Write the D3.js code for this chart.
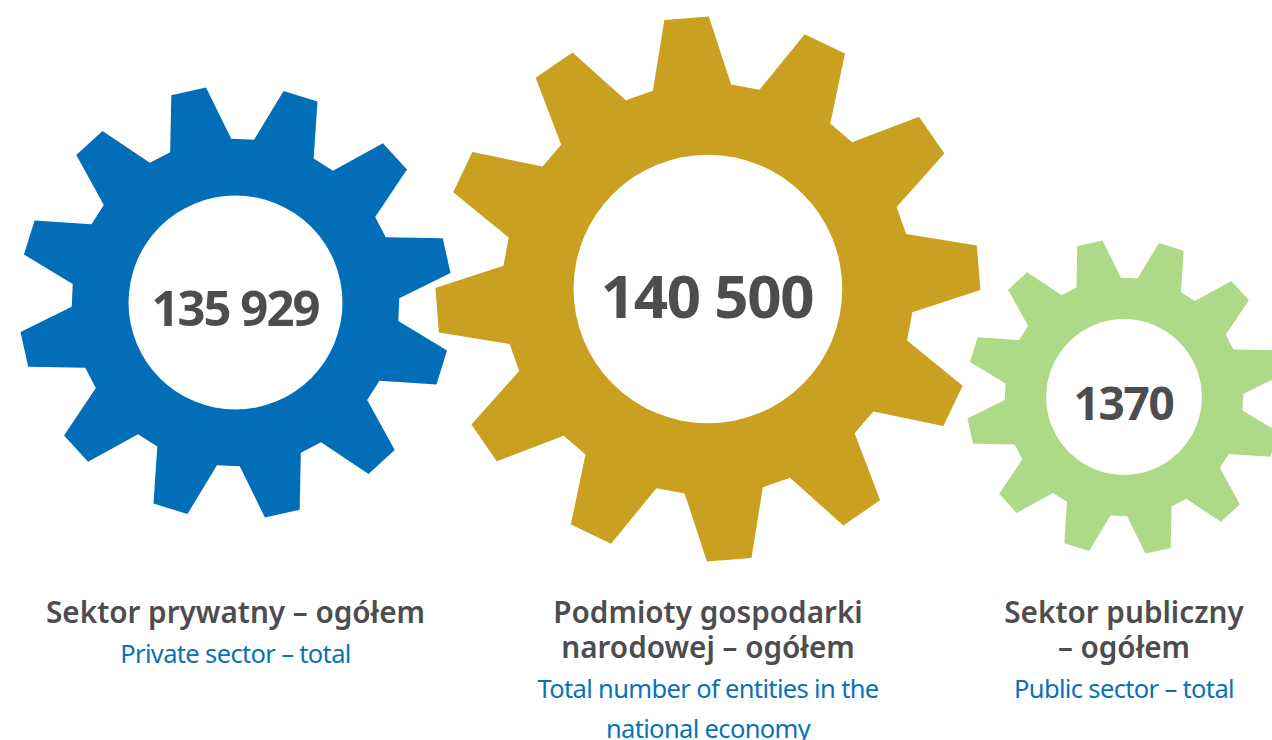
<!DOCTYPE html>
<html>
<head>
<meta charset="utf-8">
<script src="https://cdnjs.cloudflare.com/ajax/libs/d3/7.8.5/d3.min.js"></script>
<style>
  html, body { margin: 0; padding: 0; background: #fff; overflow: hidden; }
  text { font-family: "Noto Sans", sans-serif; text-anchor: middle; }
</style>
</head>
<body>
<svg id="chart" width="1272" height="740"></svg>
<script>
// the values shown inside the gears
const values = [135929, 140500, 1370];
const titles_pl = [
  ["Sektor prywatny – ogółem"],
  ["Podmioty gospodarki", "narodowej – ogółem"],
  ["Sektor publiczny", "– ogółem"]
];
const titles_en = [
  ["Private sector – total"],
  ["Total number of entities in the", "national economy"],
  ["Public sector – total"]
];

const colors = ["#036eb8", "#c9a01f", "#aed986"];
const text_color = "#4d4d4f";
const blue_text = "#0a71b9";

// where each gear goes and how big it is drawn
const gears = [
  {cx: 235.5, cy: 302.5, outer: 217, rotate: 17.5, value_size: 49, value_x: 235, value_y: 326, value_sp: -2},
  {cx: 707.9, cy: 289, outer: 272.5, rotate: -4.5, value_size: 60, value_x: 707, value_y: 318, value_sp: -1.3},
  {cx: 1124, cy: 397, outer: 158, rotate: 17.5, value_size: 46, value_x: 1123.5, value_y: 420, value_sp: -1.3}
];
const teeth = 12;
const tip_half = 4.7, root_half = 11; // half width of a tooth in degrees
const root_ratio = 0.755, hole_ratio = 0.493;

const label_x = [235.5, 708, 1124];

const svg = d3.select("#chart");

// thousands separated by a space, as in the original
const format = d3.formatLocale({decimal: ",", thousands: " ", grouping: [3], currency: ["", ""]}).format(",");
function value_label(v) {
  return v < 10000 ? String(v) : format(v);
}

function gear_path(g) {
  const pts = [];
  const root = g.outer * root_ratio;
  d3.range(teeth).forEach(i => {
    const a = g.rotate + i * 360 / teeth;
    pts.push([(a - root_half) * Math.PI / 180, root]);
    pts.push([(a - tip_half) * Math.PI / 180, g.outer]);
    pts.push([(a + tip_half) * Math.PI / 180, g.outer]);
    pts.push([(a + root_half) * Math.PI / 180, root]);
  });
  const line = d3.lineRadial().curve(d3.curveLinearClosed);
  return line(pts);
}

values.forEach((v, i) => {
  const g = gears[i];
  const node = svg.append("g");
  node.append("path")
    .attr("transform", `translate(${g.cx},${g.cy})`)
    .attr("d", gear_path(g))
    .attr("fill", colors[i]);
  node.append("circle")
    .attr("cx", g.cx).attr("cy", g.cy)
    .attr("r", g.outer * hole_ratio)
    .attr("fill", "#fff");
  node.append("text")
    .attr("x", g.value_x).attr("y", g.value_y)
    .attr("font-size", g.value_size)
    .attr("font-weight", 700)
    .attr("letter-spacing", g.value_sp)
    .attr("fill", text_color)
    .text(value_label(v));

  // polish title, then the english line under it
  let y = 622.5;
  titles_pl[i].forEach((t, k) => {
    svg.append("text")
      .attr("x", label_x[i]).attr("y", y + k * 35)
      .attr("font-size", 29.7)
      .attr("font-weight", 600)
      .attr("fill", text_color)
      .text(t);
  });
  y = 663 + (titles_pl[i].length - 1) * 35;
  titles_en[i].forEach((t, k) => {
    svg.append("text")
      .attr("x", label_x[i]).attr("y", y + k * 40)
      .attr("font-size", 25.5)
      .attr("letter-spacing", -0.65)
      .attr("fill", blue_text)
      .text(t);
  });
});
</script>
</body>
</html>
